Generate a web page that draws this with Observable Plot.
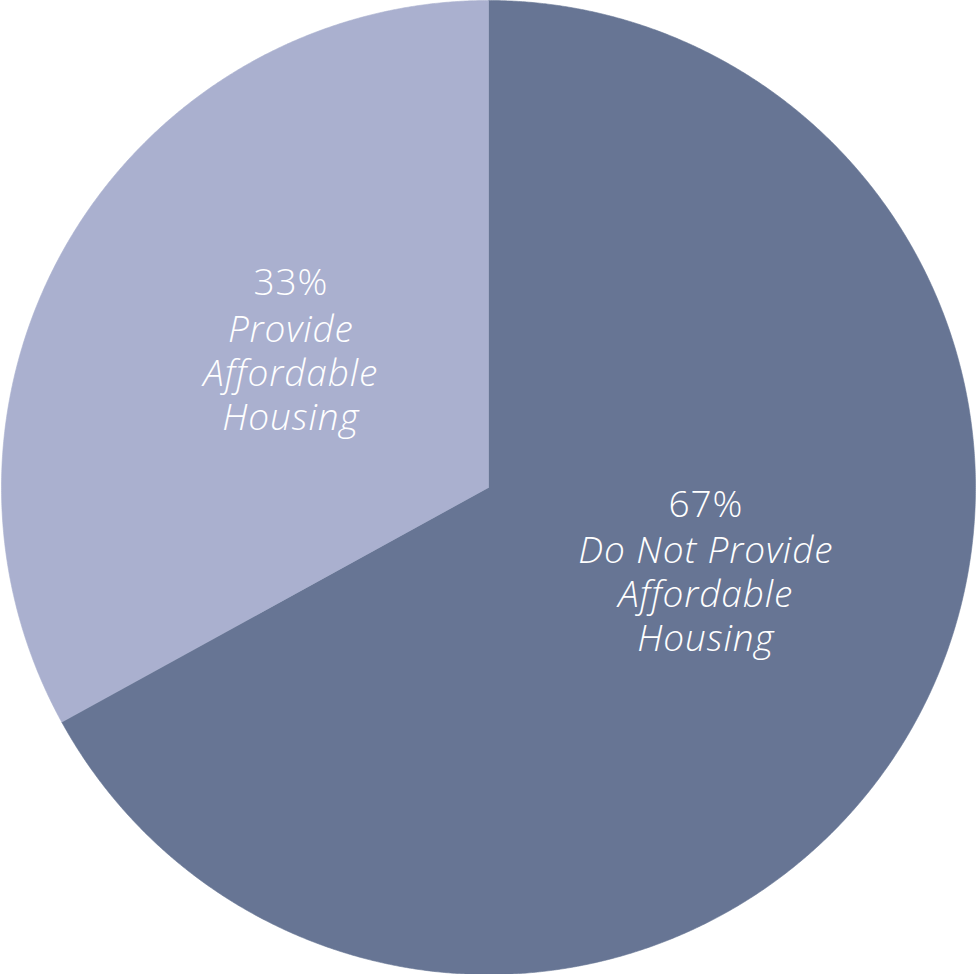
<!DOCTYPE html>
<html>
<head>
<meta charset="utf-8">
<script src="https://cdn.jsdelivr.net/npm/d3@7"></script>
<script src="https://cdn.jsdelivr.net/npm/@observablehq/plot@0.6"></script>
<style>
  html, body { margin: 0; padding: 0; background: #ffffff; }
  #chart svg { display: block; }
  #chart text { letter-spacing: 0.9px; }
</style>
</head>
<body>
<div id="chart"></div>
<script>
// ---- data ----
const categories = ["Do Not Provide Affordable Housing", "Provide Affordable Housing"];
const percents = [67, 33];
const percentLabels = ["67%", "33%"];
const labelLines = ["Do Not Provide\nAffordable\nHousing", "Provide\nAffordable\nHousing"];
const colors = ["#677594", "#aab0cf"];

// ---- layout (not data) ----
const labelAngleShift = [-9.6, 4.3];   // degrees relative to slice mid-angle
const labelRadius = [0.478, 0.495];

const total = d3.sum(percents);
const toRad = (deg) => deg * Math.PI / 180;

// build slice polygons (clockwise from 12 o'clock)
const slicePts = [];
const labelRows = [];
let acc = 0;
categories.forEach((name, i) => {
  const a0 = acc / total * 360;
  acc += percents[i];
  const a1 = acc / total * 360;
  slicePts.push({name, x: 0, y: 0});
  const steps = Math.max(2, Math.ceil((a1 - a0) / 0.25));
  for (let k = 0; k <= steps; k++) {
    const a = toRad(a0 + (a1 - a0) * k / steps);
    slicePts.push({name, x: Math.sin(a), y: Math.cos(a)});
  }
  slicePts.push({name, x: 0, y: 0});
  const mid = toRad((a0 + a1) / 2 + labelAngleShift[i]);
  labelRows.push({
    name,
    pct: percentLabels[i],
    label: labelLines[i],
    x: labelRadius[i] * Math.sin(mid),
    y: labelRadius[i] * Math.cos(mid)
  });
});

const font = "'Open Sans', Lato, sans-serif";
const fs = 37;

const plot = Plot.plot({
  width: 976,
  height: 974,
  margin: 0,
  x: {domain: [-1, 1], range: [1, 975], axis: null},
  y: {domain: [-1, 1], range: [974, 0], axis: null},
  color: {domain: categories, range: colors},
  style: {background: "transparent", fontFamily: font},
  marks: [
    Plot.line(slicePts, {
      x: "x", y: "y", z: "name",
      fill: "name", stroke: "name", strokeWidth: 0.6,
      curve: "linear"
    }),
    Plot.text(labelRows, {
      x: "x", y: "y", text: "pct",
      fill: "white", fontSize: fs, fontWeight: 300,
      dy: -66, lineAnchor: "middle"
    }),
    Plot.text(labelRows, {
      x: "x", y: "y", text: "label",
      fill: "white", fontSize: fs, fontWeight: 300, fontStyle: "italic",
      lineHeight: 44 / fs, dy: 22, lineAnchor: "middle"
    })
  ]
});

document.getElementById("chart").appendChild(plot);
</script>
</body>
</html>
